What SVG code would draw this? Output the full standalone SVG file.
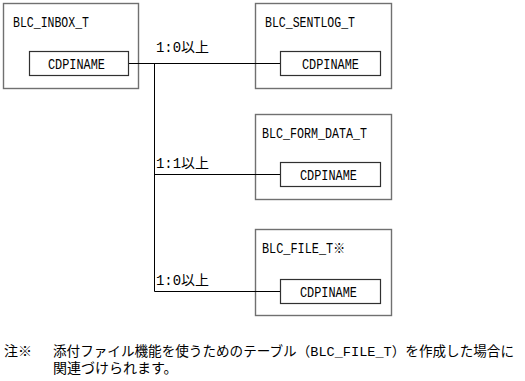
<svg xmlns="http://www.w3.org/2000/svg" width="525" height="381" viewBox="0 0 525 381">
<style>
.outer{fill:#fff;stroke:#707070;stroke-width:1.4}
.inner{fill:#fff;stroke:#303030;stroke-width:1.2}
.t{font-family:"Liberation Mono","Noto Sans CJK JP",monospace;font-size:14px;fill:#000}
.j{font-family:"Liberation Mono","Noto Sans CJK JP",sans-serif;font-size:14px;fill:#000}
.c{fill:none;stroke:#000;stroke-width:1}
</style>
<rect width="525" height="381" fill="#fff"/>
<g id="inbox">
<rect class="outer" x="3.5" y="3.5" width="135" height="85"/>
<text class="t" x="13" y="27" textLength="76" lengthAdjust="spacingAndGlyphs">BLC_INBOX_T</text>
<rect class="inner" x="29.5" y="51.5" width="99" height="24"/>
<text class="t" x="48" y="68.5" textLength="57" lengthAdjust="spacingAndGlyphs">CDPINAME</text>
</g>
<g id="sentlog">
<rect class="outer" x="255.5" y="3.5" width="136" height="85"/>
<text class="t" x="265" y="27" textLength="90" lengthAdjust="spacingAndGlyphs">BLC_SENTLOG_T</text>
<rect class="inner" x="280.5" y="51.5" width="100" height="24"/>
<text class="t" x="302" y="68.5" textLength="57" lengthAdjust="spacingAndGlyphs">CDPINAME</text>
</g>
<g id="formdata">
<rect class="outer" x="255.5" y="114.5" width="136" height="85"/>
<text class="t" x="262" y="138" textLength="105" lengthAdjust="spacingAndGlyphs">BLC_FORM_DATA_T</text>
<rect class="inner" x="280.5" y="162.5" width="100" height="24"/>
<text class="t" x="300" y="179.5" textLength="57" lengthAdjust="spacingAndGlyphs">CDPINAME</text>
</g>
<g id="file">
<rect class="outer" x="255.5" y="229.5" width="136" height="86"/>
<text class="j" x="262" y="253" textLength="83" lengthAdjust="spacingAndGlyphs">BLC_FILE_T※</text>
<rect class="inner" x="280.5" y="279.5" width="100" height="24"/>
<text class="t" x="300" y="296.5" textLength="57" lengthAdjust="spacingAndGlyphs">CDPINAME</text>
</g>
<g id="connectors">
<path class="c" d="M129 63.5H280M154.5 63.5V291.5M154.5 174.5H280M154.5 291.5H280"/>
<text class="j" x="156" y="52" textLength="53" lengthAdjust="spacingAndGlyphs">1:0以上</text>
<text class="j" x="156" y="168" textLength="53" lengthAdjust="spacingAndGlyphs">1:1以上</text>
<text class="j" x="156" y="285" textLength="53" lengthAdjust="spacingAndGlyphs">1:0以上</text>
</g>
<g id="note">
<text class="j" x="4" y="356" textLength="28" lengthAdjust="spacingAndGlyphs">注※</text>
<text class="j" x="53" y="356" style="font-size:13.5px" textLength="461" lengthAdjust="spacingAndGlyphs">添付ファイル機能を使うためのテーブル（BLC_FILE_T）を作成した場合に</text>
<text class="j" x="53" y="373">関連づけられます。</text>
</g>
</svg>
